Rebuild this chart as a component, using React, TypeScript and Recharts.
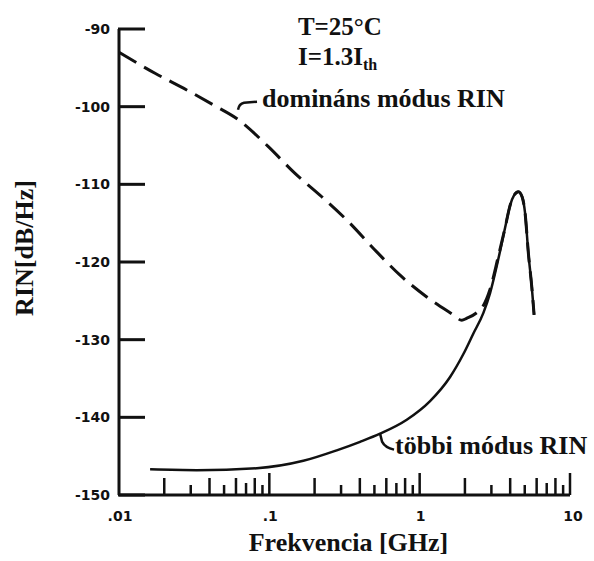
import React from 'react';
import { LineChart, Line, XAxis, YAxis, ReferenceDot } from 'recharts';

// ---- data ----
const freqDominant = [0.01, 0.01736, 0.02821, 0.04356, 0.06189, 0.0985, 0.1482, 0.2232, 0.3355, 0.5183, 0.7406, 1.115, 1.676, 1.905, 2.056, 2.37, 2.654, 2.94, 3.324, 3.7, 3.996, 4.25, 4.537, 4.8, 5.026, 5.287, 5.569, 5.77];
const rinDominant = [-93.0, -95.7, -97.85, -99.9, -101.65, -105.15, -108.6, -111.6, -114.8, -118.7, -121.7, -124.5, -126.8, -127.5, -127.25, -126.6, -125.6, -123.5, -119.4, -115.6, -112.7, -111.4, -110.95, -111.6, -113.7, -118.9, -123.2, -126.8];

const freqOther = [0.0161, 0.0329, 0.0825, 0.1683, 0.2808, 0.4013, 0.5451, 0.8208, 1.1727, 1.5935, 1.9537, 2.277, 2.654, 2.94, 3.324, 3.7, 3.996, 4.25, 4.537, 4.8, 5.026, 5.287, 5.569, 5.77];
const rinOther = [-146.7, -146.8, -146.55, -145.6, -144.25, -143.15, -142.1, -140.3, -137.9, -134.8, -131.85, -129.2, -126.55, -124.0, -119.75, -115.6, -112.7, -111.4, -110.95, -111.6, -113.7, -118.9, -123.2, -126.8];

const xMajorTicks = [0.01, 0.1, 1, 10];
const xMajorLabels = ['.01', '.1', '1', '10'];
const xMinorTicks = [0.02, 0.03, 0.04, 0.05, 0.06, 0.07, 0.08, 0.09, 0.2, 0.3, 0.4, 0.5, 0.6, 0.7, 0.8, 0.9, 2, 3, 4, 5, 6, 7, 8, 9];
const yTicks = [-150, -140, -130, -120, -110, -100, -90];

const dominantLabel = 'domináns módus RIN';
const otherLabel = 'többi módus RIN';
const tempLabel = 'T=25°C';
const xTitle = 'Frekvencia [GHz]';
const yTitle = 'RIN[dB/Hz]';

const dominantData = freqDominant.map((f, i) => ({ f, v: rinDominant[i] }));
const otherData = freqOther.map((f, i) => ({ f, v: rinOther[i] }));
const allXTicks = [...xMajorTicks, ...xMinorTicks].sort((a, b) => a - b);
const xMin = xMajorTicks[0];

const INK = '#111';
const SERIF = '"Liberation Serif", "Times New Roman", serif';
const SANS = '"DejaVu Sans", sans-serif';
const Y_TICK_LEN = 26;

const minorHeight = (v: number) => {
  const m = Math.round(v / Math.pow(10, Math.floor(Math.log10(v) + 1e-9)));
  if (m === 1) return 22;
  if (m === 3 || m === 5 || m === 9) return 10;
  if (m === 7) return 12;
  return 17;
};

const XTick = (props: any) => {
  const { x, y, payload } = props;
  const v = payload.value;
  const mi = xMajorTicks.findIndex((t) => Math.abs(t - v) < 1e-9);
  const showLine = v > 0.0101;
  return (
    <g>
      {showLine && <line x1={x} x2={x} y1={y} y2={y - minorHeight(v)} stroke={INK} strokeWidth={2.5} />}
      {mi >= 0 && (
        <text x={x + (v === 10 ? 3 : 1)} y={y + 21} textAnchor="middle" dominantBaseline="central" fontFamily={SANS} fontWeight="bold" fontSize={14} fill={INK}>
          {xMajorLabels[mi]}
        </text>
      )}
    </g>
  );
};

const YTick = (props: any) => {
  const { x, y, payload } = props;
  return (
    <text x={Number(x)} y={Number(y)} textAnchor="end" dominantBaseline="central" fontFamily={SANS} fontWeight="bold" fontSize={14} fill={INK}>
      {String(payload.value)}
    </text>
  );
};

const textStyle = { fontFamily: SERIF, fontWeight: 'bold' as const, fontSize: 26, fill: INK };

export default function App() {
  return (
    <div style={{ position: 'absolute', left: 0, top: 0, width: 594, height: 561, background: '#fff' }}>
      <LineChart width={594} height={561} margin={{ top: 29, right: 24, bottom: 0, left: 0 }}>
        <XAxis
          dataKey="f"
          type="number"
          scale="log"
          domain={[0.01, 10]}
          allowDataOverflow
          ticks={allXTicks}
          interval={0}
          height={66}
          tickSize={0}
          tickMargin={0}
          tick={<XTick />}
          axisLine={{ stroke: INK, strokeWidth: 3 }}
          tickLine={false}
          label={{
            content: (p: any) => {
              const vb = p.viewBox;
              return (
                <text x={vb.x + vb.width / 2 + 4} y={vb.y + 56} textAnchor="middle" {...textStyle}>
                  {xTitle}
                </text>
              );
            },
          }}
        />
        <YAxis
          type="number"
          domain={[-150, -90]}
          ticks={yTicks}
          interval={0}
          width={119}
          tickSize={0}
          tickMargin={9}
          tick={<YTick />}
          axisLine={{ stroke: INK, strokeWidth: 3 }}
          tickLine={false}
          label={{
            content: (p: any) => {
              const vb = p.viewBox;
              const cx = vb.x + 24;
              const cy = vb.y + vb.height / 2 - 14;
              return (
                <text x={cx} y={cy} transform={`rotate(-90, ${cx}, ${cy})`} textAnchor="middle" dominantBaseline="central" {...textStyle}>
                  {yTitle}
                </text>
              );
            },
          }}
        />
        <Line data={otherData} dataKey="v" type="monotone" stroke={INK} strokeWidth={2.5} dot={false} isAnimationActive={false} />
        <Line data={dominantData} dataKey="v" type="monotone" stroke={INK} strokeWidth={3} strokeDasharray="20 9" dot={false} isAnimationActive={false} />
        {yTicks.map((t) => (
          <ReferenceDot
            key={`yt${t}`}
            x={xMin}
            y={t}
            r={0}
            ifOverflow="visible"
            shape={(p: any) => (
              <rect x={Number(p.cx) - 1} y={Number(p.cy) - 1.5} width={Y_TICK_LEN + 1} height={3} fill={INK} />
            )}
          />
        ))}
        <ReferenceDot
          x={0.155}
          y={-90.77}
          r={0}
          ifOverflow="visible"
          shape={(p: any) => (
            <g>
              <text x={p.cx} y={p.cy} {...textStyle} fontSize={25}>{tempLabel}</text>
              <text x={p.cx} y={p.cy + 30} {...textStyle} fontSize={25}>
                I=1.3I<tspan fontSize={16} dy={5}>th</tspan>
              </text>
            </g>
          )}
        />
        <ReferenceDot
          x={0.0619}
          y={-100.4}
          r={0}
          ifOverflow="visible"
          shape={(p: any) => (
            <g>
              <path d={`M${p.cx},${p.cy} Q${p.cx + 1},${p.cy - 6} ${p.cx + 6},${p.cy - 7} L${p.cx + 19},${p.cy - 8}`} fill="none" stroke={INK} strokeWidth={2.5} />
              <text x={p.cx + 24} y={p.cy - 3} {...textStyle}>{dominantLabel}</text>
            </g>
          )}
        />
        <ReferenceDot
          x={0.545}
          y={-142.1}
          r={0}
          ifOverflow="visible"
          shape={(p: any) => (
            <g>
              <path d={`M${p.cx},${p.cy} L${p.cx + 2},${p.cy + 8} Q${p.cx + 5},${p.cy + 14} ${p.cx + 14},${p.cy + 16}`} fill="none" stroke={INK} strokeWidth={2.5} />
              <text x={p.cx + 15} y={p.cy + 20} {...textStyle}>{otherLabel}</text>
            </g>
          )}
        />
      </LineChart>
    </div>
  );
}
